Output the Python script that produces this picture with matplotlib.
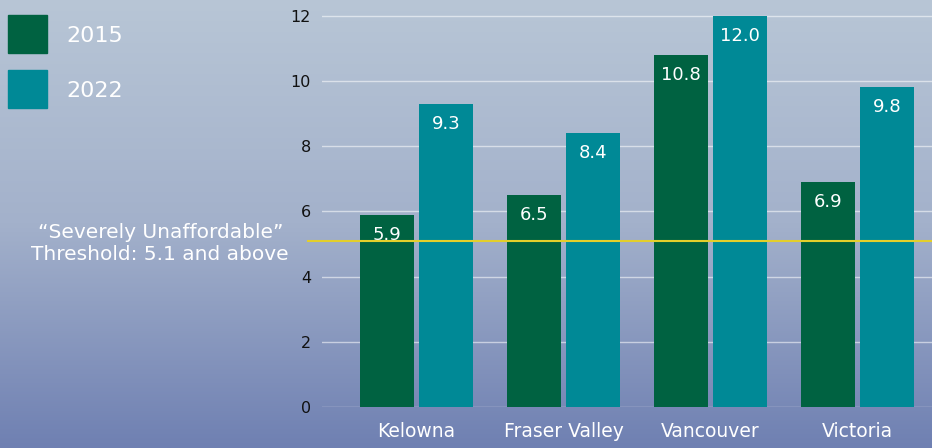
import numpy as np
import matplotlib
matplotlib.use("Agg")
import matplotlib.pyplot as plt
from matplotlib.colors import LinearSegmentedColormap

plt.rcParams['font.family'] = ['DejaVu Sans']

cities = ["Kelowna", "Fraser Valley", "Vancouver", "Victoria"]
years = ["2015", "2022"]
v2015 = [5.9, 6.5, 10.8, 6.9]
v2022 = [9.3, 8.4, 12.0, 9.8]
threshold = 5.1
yticks = [0, 2, 4, 6, 8, 10, 12]

c2015 = "#006241"
c2022 = "#008996"
yellow = "#e3cf2b"

W, H = 932, 448
fig = plt.figure(figsize=(W/100, H/100), dpi=100)

# background gradient
bg = fig.add_axes([0, 0, 1, 1], zorder=-10)
cmap = LinearSegmentedColormap.from_list("bg", ["#b8c6d6", "#a3b1cb", "#6f80b2"])
grad = np.linspace(0, 1, 256).reshape(-1, 1)
bg.imshow(grad, aspect='auto', cmap=cmap, extent=[0, 1, 0, 1], origin='upper')
bg.set_axis_off()

left = 322 / W
bottom = (H - 407) / H
ax = fig.add_axes([left, bottom, 1 - left, 1 - bottom])
ax.patch.set_alpha(0)
for s in ax.spines.values():
    s.set_visible(False)

x = np.arange(len(cities))
bw = 0.367
off = 0.2
b1 = ax.bar(x - off, v2015, bw, color=c2015, zorder=3)
b2 = ax.bar(x + off, v2022, bw, color=c2022, zorder=3)

ax.set_xlim(-0.643, 3.507)
ax.set_ylim(0, 12.48)
ax.set_yticks(yticks)
ax.set_yticklabels([str(t) for t in yticks], fontsize=11.5, color="#111111")
ax.tick_params(axis='y', length=0, pad=8)
ax.set_xticks(x)
ax.set_xticklabels(cities, fontsize=13.5, color="white")
ax.tick_params(axis='x', length=0, pad=11)
ax.yaxis.grid(True, color="white", alpha=0.55, lw=1, zorder=1)
ax.set_axisbelow(True)

for bars, vals in ((b1, v2015), (b2, v2022)):
    for b, v in zip(bars, vals):
        ax.annotate(f"{v:.1f}", (b.get_x() + b.get_width()/2, v),
                    xytext=(0, -20), textcoords='offset pixels',
                    ha='center', va='center', color='white', fontsize=13,
                    zorder=5)

# threshold line extending slightly left of axes
ax.plot([-0.74, 3.507], [threshold, threshold], color=yellow, lw=1.5,
        zorder=4, clip_on=False)

fig.text(289 / W, 1 - 244 / H, "\u201cSeverely Unaffordable\u201d\nThreshold: 5.1 and above",
         ha='right', va='center', color='white', fontsize=14.5, multialignment='center',
         linespacing=1.2)

# legend
for i, (yr, col) in enumerate(zip(years, [c2015, c2022])):
    top = 15 + i * 55
    fig.patches.append(plt.Rectangle((8 / W, 1 - (top + 38) / H), 39 / W, 38 / H,
                                     transform=fig.transFigure, color=col, figure=fig))
    fig.text(66 / W, 1 - (top + 21) / H, yr, ha='left', va='center', color='white',
             fontsize=16)

fig.savefig("out.png", dpi=100)
